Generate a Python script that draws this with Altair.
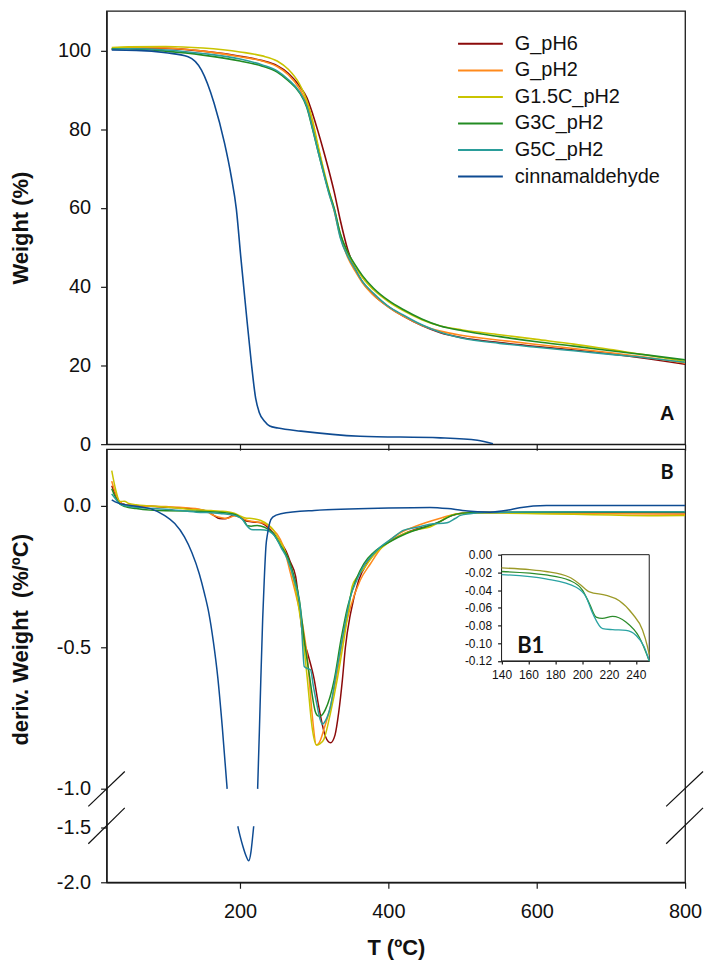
import altair as alt
import pandas as pd

FONT = "Liberation Sans"
NAMES = ["G_pH6", "G_pH2", "G1.5C_pH2", "G3C_pH2", "G5C_pH2", "cinnamaldehyde"]
COLORS = ["#8B0A0A", "#FF8A1C", "#C9C400", "#228B22", "#2A9D9A", "#0E4B92"]

# ---------------- Panel A : TGA weight (%) ----------------
T_A = [27, 50, 100, 150, 200, 230, 250, 265, 280, 290, 298, 305, 313, 320, 327, 335,
       345, 355, 365, 380, 400, 420, 445, 470, 500, 550, 600, 650, 700, 750, 800]
W_G_PH6 = [100.3, 100.6, 100.5, 99.8, 98.5, 97.4, 96.1, 94.2, 91.0, 88.0, 83.8, 79.5, 74.2, 69.3, 64.0, 57.0,
           49.5, 44.6, 41.2, 37.9, 34.9, 32.5, 30.1, 28.3, 27.0, 25.8, 24.8, 23.9, 22.9, 21.7, 20.3]
W_G_PH2 = [100.4, 100.7, 100.6, 99.8, 98.4, 97.3, 95.9, 93.8, 90.3, 86.5, 81.0, 75.5, 69.0, 63.8, 59.2, 52.8,
           47.5, 44.0, 41.0, 37.8, 34.8, 32.5, 30.2, 28.7, 27.6, 26.4, 25.3, 24.3, 23.2, 22.0, 20.6]
W_G15C = [100.7, 100.9, 101.0, 100.6, 99.6, 98.6, 97.3, 95.2, 91.5, 87.3, 82.0, 76.0, 69.5, 64.3, 59.8, 53.5,
          48.6, 45.2, 42.3, 39.2, 36.2, 33.9, 31.6, 30.0, 29.0, 27.8, 26.6, 25.4, 24.0, 22.6, 21.0]
W_G3C = [100.4, 100.4, 99.8, 98.8, 97.3, 96.0, 94.5, 92.3, 89.3, 85.5, 79.8, 74.5, 68.7, 64.0, 59.8, 53.5,
         48.8, 45.6, 42.8, 39.6, 36.5, 34.2, 31.8, 30.0, 28.8, 27.3, 26.0, 24.9, 23.7, 22.6, 21.4]
W_G5C = [100.3, 100.4, 100.1, 99.2, 97.8, 96.3, 94.8, 92.6, 89.5, 85.8, 80.0, 74.5, 68.5, 63.5, 59.3, 52.5,
         47.8, 44.5, 41.3, 38.3, 35.0, 32.8, 30.3, 28.4, 26.9, 25.6, 24.6, 23.7, 22.8, 21.9, 20.8]
T_CIN_A = [27, 60, 100, 130, 148, 165, 179, 188, 195, 201, 208, 215, 221, 226, 233, 240, 251, 282, 362, 470, 520, 541]
W_CIN = [100.1, 100.0, 99.4, 98.4, 95.0, 86.6, 76.5, 68.1, 59.7, 47.5, 34.0, 21.0, 11.7, 8.0, 5.8, 4.6, 4.1, 3.3,
         2.0, 1.6, 1.0, 0.1]

# ---------------- Panel B : DTG (%/ºC) ----------------
T_R = [27, 32, 38, 45, 60, 80, 100, 120, 140, 155, 165, 172, 180, 186, 192, 200, 210, 220, 228, 237, 246, 255,
       262, 268, 275, 280, 284, 291, 300, 306, 315, 322, 328, 333, 338, 342, 349, 360, 372, 385, 400, 420, 438,
       456, 470, 480, 495, 520, 600, 700, 800]
D_R = [0.071, 0.04, 0.012, 0.004, 0.0, -0.002, -0.005, -0.008, -0.012, -0.018, -0.035, -0.045, -0.046, -0.04,
       -0.033, -0.04, -0.055, -0.058, -0.06, -0.075, -0.1, -0.13, -0.16, -0.2, -0.25, -0.357, -0.45, -0.52,
       -0.614, -0.708, -0.814, -0.837, -0.81, -0.73, -0.614, -0.5, -0.38, -0.263, -0.2, -0.16, -0.128, -0.1,
       -0.082, -0.07, -0.055, -0.04, -0.028, -0.023, -0.024, -0.024, -0.025]
T_O = [27, 32, 38, 45, 60, 100, 140, 155, 165, 175, 183, 192, 200, 210, 222, 232, 242, 250, 258, 268, 277, 284,
       291, 297, 303, 308, 313, 322, 331, 340, 349, 362, 376, 390, 405, 420, 434, 450, 470, 487, 500, 550, 600,
       700, 800]
D_O = [0.087, 0.045, 0.012, 0.004, 0.0, -0.003, -0.01, -0.02, -0.035, -0.042, -0.044, -0.036, -0.04, -0.052,
       -0.057, -0.062, -0.08, -0.1, -0.14, -0.239, -0.333, -0.415, -0.544, -0.731, -0.845, -0.83, -0.79, -0.708,
       -0.59, -0.45, -0.357, -0.263, -0.204, -0.15, -0.115, -0.09, -0.075, -0.06, -0.044, -0.032, -0.026, -0.025,
       -0.026, -0.028, -0.03]
T_Y = [27, 32, 38, 44, 50, 60, 100, 140, 161, 173, 191, 198, 206, 218, 228, 238, 245, 250, 258, 265, 272, 278,
       285, 291, 297, 303, 308, 313, 322, 331, 340, 347, 351, 358, 366, 380, 400, 420, 440, 456, 470, 479, 490,
       520, 560, 600, 650, 700, 750, 800]
D_Y = [0.124, 0.06, 0.015, 0.016, 0.008, 0.004, -0.004, -0.0143, -0.0169, -0.019, -0.0255, -0.033, -0.042,
       -0.046, -0.052, -0.067, -0.085, -0.11, -0.145, -0.19, -0.26, -0.34, -0.47, -0.62, -0.78, -0.845, -0.84,
       -0.825, -0.731, -0.614, -0.474, -0.357, -0.286, -0.251, -0.225, -0.175, -0.13, -0.1, -0.083, -0.075,
       -0.055, -0.04, -0.03, -0.025, -0.026, -0.028, -0.03, -0.033, -0.035, -0.034]
T_G = [27, 32, 38, 45, 60, 100, 141, 173, 191, 200, 206, 210, 215, 223, 233, 243, 250, 257, 264, 273, 280, 286,
       293, 302, 306, 310, 315, 327, 336, 345, 356, 367, 380, 400, 425, 450, 470, 485, 500, 550, 650, 800]
D_G = [0.06, 0.03, 0.006, -0.003, -0.01, -0.018, -0.019, -0.0229, -0.029, -0.0405, -0.0555, -0.0705, -0.072,
       -0.0697, -0.076, -0.093, -0.12, -0.15, -0.18, -0.251, -0.333, -0.462, -0.59, -0.731, -0.743, -0.74, -0.72,
       -0.614, -0.474, -0.357, -0.263, -0.204, -0.165, -0.13, -0.097, -0.075, -0.055, -0.035, -0.026, -0.023,
       -0.022, -0.022]
T_T = [27, 32, 38, 45, 60, 100, 141, 173, 196, 203, 208, 215, 223, 233, 240, 246, 250, 255, 264, 273, 282, 284.5,
       286.5, 291, 295, 299, 304, 308, 311, 315, 322, 329, 336, 342, 349, 357, 366, 378, 389, 405, 420, 440, 456,
       479, 490, 497, 510, 530, 600, 700, 800]
D_T = [0.042, 0.025, 0.006, 0.0, -0.005, -0.012, -0.0225, -0.0273, -0.0368, -0.048, -0.0667, -0.0836, -0.0847,
       -0.0855, -0.091, -0.104, -0.12, -0.146, -0.19, -0.263, -0.38, -0.5, -0.568, -0.575, -0.579, -0.64, -0.708,
       -0.755, -0.772, -0.76, -0.708, -0.6, -0.497, -0.41, -0.32, -0.265, -0.216, -0.175, -0.146, -0.115, -0.087,
       -0.075, -0.065, -0.06, -0.045, -0.034, -0.028, -0.024, -0.022, -0.021, -0.021]
# cinnamaldehyde DTG, in three pieces around the axis break
T_C1 = [27, 35, 45, 60, 80, 98, 112, 125, 135, 145, 152, 158, 164, 170, 176, 182.6]
D_C1 = [0.021, 0.01, 0.004, -0.002, -0.011, -0.034, -0.063, -0.11, -0.165, -0.24, -0.31, -0.38, -0.48,
        -0.607, -0.78, -1.0]
T_C2 = [197, 200, 203.6, 208, 211.7, 214.8, 216.5, 218.4]
D_C2 = [-1.49, -1.58, -1.67, -1.76, -1.805, -1.72, -1.62, -1.49]
T_C3 = [223.7, 226, 228, 230.5, 232.6, 235, 237, 240, 244, 255, 300, 400, 456, 480, 500, 520, 537, 560, 577, 613,
        700, 800]
D_C3 = [-1.0, -0.8, -0.614, -0.4, -0.263, -0.14, -0.1, -0.06, -0.04, -0.028, -0.0165, -0.008, -0.006, -0.01,
        -0.0165, -0.021, -0.0225, -0.016, -0.007, 0.001, 0.001, 0.001]

# ---------------- Inset B1 ----------------
INS_NAMES = ["G1.5C_pH2", "G3C_pH2", "G5C_pH2"]
INS_COLORS = ["#9C9A28", "#2C8C2C", "#2AA3A3"]
T_I1 = [140, 161, 173, 190.6, 198, 205.5, 218, 227.7, 237.6, 245, 248.7, 250]
D_I1 = [-0.015, -0.0169, -0.019, -0.0255, -0.033, -0.042, -0.046, -0.052, -0.067, -0.085, -0.104, -0.113]
T_I2 = [140, 173, 190.6, 200.5, 205.5, 210.4, 215, 222.7, 232.6, 242.5, 250]
D_I2 = [-0.019, -0.0229, -0.029, -0.0405, -0.0555, -0.0705, -0.072, -0.0697, -0.076, -0.093, -0.12]
T_I3 = [140, 173, 195.6, 203, 208, 215.3, 222.7, 232.7, 240, 246.2, 250]
D_I3 = [-0.0225, -0.0273, -0.0368, -0.048, -0.0667, -0.0836, -0.0847, -0.0855, -0.091, -0.104, -0.12]
INS_X_TICKS = [140, 160, 180, 200, 220, 240]
INS_Y_TICKS = [-0.12, -0.10, -0.08, -0.06, -0.04, -0.02, 0.0]


def frame(name, xs, ys, seg="a"):
    return pd.DataFrame({"series": name, "seg": seg, "T": xs, "v": ys})


dfA = pd.concat([
    frame("G_pH6", T_A, W_G_PH6), frame("G_pH2", T_A, W_G_PH2), frame("G1.5C_pH2", T_A, W_G15C),
    frame("G3C_pH2", T_A, W_G3C), frame("G5C_pH2", T_A, W_G5C), frame("cinnamaldehyde", T_CIN_A, W_CIN)])
dfB = pd.concat([
    frame("G_pH6", T_R, D_R), frame("G_pH2", T_O, D_O), frame("G1.5C_pH2", T_Y, D_Y),
    frame("G3C_pH2", T_G, D_G), frame("G5C_pH2", T_T, D_T),
    frame("cinnamaldehyde", T_C1, D_C1, "c1"), frame("cinnamaldehyde", T_C2, D_C2, "c2"),
    frame("cinnamaldehyde", T_C3, D_C3, "c3")])
dfI = pd.concat([frame(INS_NAMES[0], T_I1, D_I1), frame(INS_NAMES[1], T_I2, D_I2), frame(INS_NAMES[2], T_I3, D_I3)])

W, H = 581, 435
color = alt.Color("series:N", scale=alt.Scale(domain=NAMES, range=COLORS), legend=None)
xscale = alt.Scale(domain=[20, 800], nice=False, zero=False)
X_TICKS = [200, 400, 600, 800]


def fmt(d):
    return f"datum.value < 0 ? '-' + format(-datum.value, '{d}') : format(datum.value, '{d}')"


def text_layer(txt, x, y, size, font=FONT):
    return alt.Chart(pd.DataFrame({"t": [txt]})).mark_text(
        font=font, fontSize=size, fontWeight="bold", align="center", baseline="alphabetic", color="#111"
    ).encode(x=alt.value(x), y=alt.value(y), text="t:N")


# ---- Panel A ----
linesA = alt.Chart(dfA).mark_line(strokeWidth=1.6, interpolate="monotone", clip=True).encode(
    x=alt.X("T:Q", scale=xscale,
            axis=alt.Axis(values=X_TICKS, labels=False, title=None, tickSize=6, grid=False)),
    y=alt.Y("v:Q", scale=alt.Scale(domain=[0, 110], nice=False),
            axis=alt.Axis(values=[0, 20, 40, 60, 80, 100], title="Weight (%)", tickSize=6, labelPadding=10,
                          labelFontSize=20, titleFontSize=22, titleFontWeight="bold", titleX=-79, titleY=217.5,
                          titleAngle=270, titleAlign="center", titleBaseline="alphabetic", grid=False,
                          labelFlush=False)),
    color=color, detail="seg:N")

leg_df = pd.DataFrame({"series": NAMES})
leg_y = alt.Y("series:N", scale=alt.Scale(type="point", domain=NAMES, range=[33, 166.3], padding=0), axis=None)
leg_rule = alt.Chart(leg_df).mark_rule(strokeWidth=2).encode(
    x=alt.value(353), x2=alt.value(398), y=leg_y, color=color)
leg_text = alt.Chart(leg_df).mark_text(align="left", baseline="middle", font=FONT, fontSize=20,
                                       color="#111").encode(x=alt.value(410), y=leg_y, text="series:N")
panelA = alt.layer(linesA, alt.layer(leg_rule, leg_text), text_layer("A", 563, 411, 20)).resolve_scale(
    y="independent").properties(width=W, height=H)

# ---- Panel B ----
yB = alt.Scale(domain=[-2.0, -1.5, -1.0, 0.2], range=[435, 379.5, 341.2, 0], nice=False, zero=False)
linesB = alt.Chart(dfB).mark_line(strokeWidth=1.5, interpolate="monotone").encode(
    x=alt.X("T:Q", scale=xscale,
            axis=alt.Axis(values=X_TICKS, format="d", title="T (ºC)", tickSize=6, labelPadding=13,
                          labelFontSize=20, titleFontSize=22, titleFontWeight="bold", titleY=73,
                          titleBaseline="alphabetic", grid=False, labelFlush=False)),
    y=alt.Y("v:Q", scale=yB,
            axis=alt.Axis(values=[-2.0, -1.5, -1.0, -0.5, 0.0], labelExpr=fmt(".1f"),
                          title="deriv. Weight\u00a0 (%/ºC)", tickSize=6, labelPadding=10, labelFontSize=20,
                          titleFontSize=22, titleFontWeight="bold", titleX=-79, titleY=191, titleAngle=270,
                          titleAlign="center", titleBaseline="alphabetic", grid=False, labelFlush=False)),
    color=color, detail="seg:N")

ins_x = alt.Scale(domain=[140, 250], range=[396.7, 545], nice=False, zero=False)
ins_y = alt.Scale(domain=[-0.12, 0.0], range=[212.7, 106], nice=False, zero=False)
ins_x_axis = alt.Axis(orient="bottom", offset=-222.3, values=INS_X_TICKS, format="d", title=None, tickSize=3,
                      labelPadding=6, labelFontSize=12, labelOverlap=False, labelFlush=False, grid=False,
                      domainWidth=1, labelColor="#111")
ins_y_axis = alt.Axis(orient="left", offset=-396.7, values=INS_Y_TICKS, labelExpr=fmt(".2f"), title=None,
                      tickSize=4, labelPadding=6, labelFontSize=12, labelOverlap=False, labelFlush=False,
                      grid=False, domainWidth=1, labelColor="#111")
ins_box = alt.Chart(pd.DataFrame({"T": [140], "T2": [250], "v": [-0.12], "v2": [0.0]})).mark_rect(
    fill="white", stroke="#1a1a1a", strokeWidth=1).encode(
    x=alt.X("T:Q", scale=ins_x, axis=ins_x_axis), x2="T2:Q",
    y=alt.Y("v:Q", scale=ins_y, axis=ins_y_axis), y2="v2:Q")
ins_lines = alt.Chart(dfI).mark_line(strokeWidth=1.3, interpolate="monotone").encode(
    x=alt.X("T:Q", scale=ins_x, axis=ins_x_axis),
    y=alt.Y("v:Q", scale=ins_y, axis=ins_y_axis),
    color=alt.Color("series:N", scale=alt.Scale(domain=INS_NAMES, range=INS_COLORS), legend=None))
inset = alt.layer(ins_box, ins_lines)

BREAKS = [(-18.3, 358.7, 18.3, 323.7), (-18.3, 396.3, 18.3, 360.3),
          (562.0, 358.7, 599.0, 323.7), (562.0, 396.3, 599.0, 360.3)]
break_layers = [
    alt.Chart(pd.DataFrame({"k": [i]})).mark_rule(strokeWidth=1.2, color="#111").encode(
        x=alt.value(a), y=alt.value(b), x2=alt.value(c), y2=alt.value(d))
    for i, (a, b, c, d) in enumerate(BREAKS)]

panelB = alt.layer(linesB, inset, *break_layers, text_layer("B", 563, 30, 20, "Lato"),
                   text_layer("B1", 426, 205, 22, "Lato")).resolve_scale(
    x="independent", y="independent", color="independent").properties(width=W, height=H)

chart = alt.vconcat(panelA, panelB, spacing=5, bounds="flush").properties(
    padding={"left": 9, "top": 8, "right": 0, "bottom": 0}
).configure_view(stroke="#1a1a1a", strokeWidth=1.3).configure_axis(
    domainColor="#1a1a1a", domainWidth=1.3, tickColor="#1a1a1a", tickWidth=1.2,
    labelFont=FONT, titleFont=FONT, labelColor="#111", titleColor="#111", grid=False)

chart.save("out.html", embed_options={"renderer": "svg", "actions": False})
